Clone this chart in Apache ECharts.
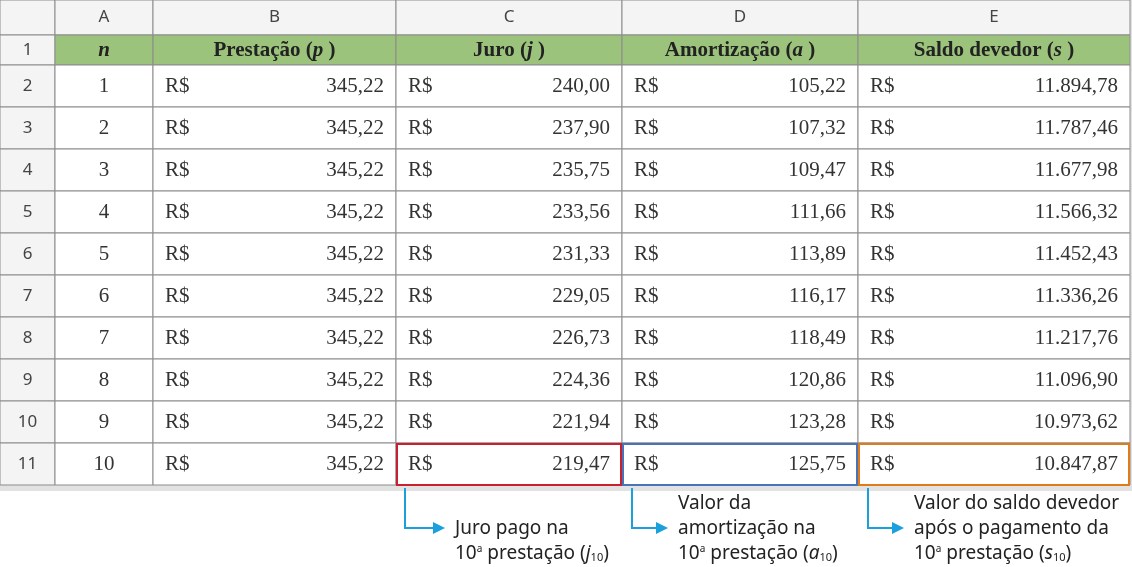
<!DOCTYPE html>
<html><head><meta charset="utf-8">
<script src="https://cdn.jsdelivr.net/npm/echarts@6/dist/echarts.min.js"></script>
<style>html,body{margin:0;padding:0;background:#fff}#c{width:1132px;height:567px}</style>
</head><body><div id="c"></div>
<script>
const colLetters = ['A','B','C','D','E'];
const n = [1,2,3,4,5,6,7,8,9,10];
const prestacao = [345.22,345.22,345.22,345.22,345.22,345.22,345.22,345.22,345.22,345.22];
const juro = [240.00,237.90,235.75,233.56,231.33,229.05,226.73,224.36,221.94,219.47];
const amortizacao = [105.22,107.32,109.47,111.66,113.89,116.17,118.49,120.86,123.28,125.75];
const saldo = [11894.78,11787.46,11677.98,11566.32,11452.43,11336.26,11217.76,11096.90,10973.62,10847.87];

const colEdges = [0,55,153,396,622,858,1130];
function rowTop(r){ return r===0?0:(r===1?35:65+42*(r-2)); }
function rowBot(r){ return r===0?35:(r===1?65:65+42*(r-1)); }
function fmt(v){
  const s=v.toFixed(2).split('.');
  return s[0].replace(/\B(?=(\d{3})+(?!\d))/g,'.')+','+s[1];
}
const cols=[n,prestacao,juro,amortizacao,saldo];
const data=[];
for(let r=0;r<12;r++) for(let c=0;c<6;c++) data.push([c,r]);

const serif='"Liberation Serif","DejaVu Serif",serif';
const sans='"Noto Sans",sans-serif';
function hdr(c){
  const parts=[['n',null],['Prestação (','p'],['Juro (','j'],['Amortização (','a'],['Saldo devedor (','s']][c];
  if(c===0) return {text:'{i|n}',rich:{i:{fontFamily:serif,fontWeight:'bold',fontStyle:'italic',fontSize:21,fill:'#222'}}};
  return {text:'{b|'+parts[0]+'}{i|'+parts[1]+'}{b| )}',rich:{
    b:{fontFamily:serif,fontWeight:'bold',fontSize:21,fill:'#222'},
    i:{fontFamily:serif,fontWeight:'bold',fontStyle:'italic',fontSize:21,fill:'#222'}}};
}
function renderItem(params,api){
  const c=api.value(0), r=api.value(1);
  const p1=api.coord([colEdges[c],rowTop(r)]), p2=api.coord([colEdges[c+1],rowBot(r)]);
  const w=p2[0]-p1[0], h=p2[1]-p1[1], cy=p1[1]+h/2;
  let fill='#fff';
  if(r===0||c===0) fill='#f4f4f4';
  else if(r===1) fill='#9cc37c';
  const ch=[{type:'rect',shape:{x:p1[0],y:p1[1],width:w,height:h},style:{fill:fill,stroke:'#8c8c8c',lineWidth:1}}];
  if(c===0){
    if(r>0) ch.push({type:'text',style:{text:String(r),x:p1[0]+w/2,y:cy,align:'center',verticalAlign:'middle',font:'17px '+sans,fill:'#444'}});
  } else if(r===0){
    ch.push({type:'text',style:{text:colLetters[c-1],x:p1[0]+w/2,y:cy,align:'center',verticalAlign:'middle',font:'17px '+sans,fill:'#444'}});
  } else if(r===1){
    const h2=hdr(c-1);
    ch.push({type:'text',style:Object.assign({x:p1[0]+w/2,y:cy+1,align:'center',verticalAlign:'middle'},h2)});
  } else {
    const v=cols[c-1][r-2];
    const f='21px '+serif;
    if(c===1){
      ch.push({type:'text',style:{text:String(v),x:p1[0]+w/2,y:cy,align:'center',verticalAlign:'middle',font:f,fill:'#333'}});
    } else {
      ch.push({type:'text',style:{text:'R$',x:p1[0]+12,y:cy,align:'left',verticalAlign:'middle',font:f,fill:'#333'}});
      ch.push({type:'text',style:{text:fmt(v),x:p2[0]-12,y:cy,align:'right',verticalAlign:'middle',font:f,fill:'#333'}});
    }
  }
  return {type:'group',children:ch};
}
const hl=[[3,'#c8202f'],[4,'#4a72b8'],[5,'#e07b1a']];
const notes=[
  {x:455,lines:['Juro pago na','10{s|a} prestação ({it|j}{sub|10})'],ax:405},
  {x:678,lines:['Valor da','amortização na','10{s|a} prestação ({it|a}{sub|10})'],ax:632},
  {x:914,lines:['Valor do saldo devedor','após o pagamento da','10{s|a} prestação ({it|s}{sub|10})'],ax:868}
];
function annRender(params,api){
  const i=params.dataIndex, c=hl[i][0], col=hl[i][1];
  const p1=api.coord([colEdges[c],rowTop(11)]), p2=api.coord([colEdges[c+1],rowBot(11)]);
  const nt=notes[i];
  const top=api.coord([nt.ax,488]), bend=api.coord([nt.ax,528]), end=api.coord([nt.x-12,528]);
  const ch=[{type:'rect',shape:{x:p1[0]+1,y:p1[1]+1,width:p2[0]-p1[0]-2,height:p2[1]-p1[1]-1},style:{fill:'none',stroke:col,lineWidth:2}},
    {type:'polyline',shape:{points:[top,bend,[end[0]-6,end[1]]]},style:{stroke:'#1aa0dc',lineWidth:2,fill:'none'}},
    {type:'polygon',shape:{points:[[end[0]-10,end[1]-6],[end[0]+2,end[1]],[end[0]-10,end[1]+6]]},style:{fill:'#1aa0dc'}}];
  const L=nt.lines.length, lh=25;
  nt.lines.forEach((t,k)=>{
    const yy=api.coord([0,554-(L-1-k)*lh])[1];
    ch.push({type:'text',style:{text:t,x:nt.x,y:yy,align:'left',verticalAlign:'middle',
      font:'19px "Noto Sans",sans-serif',fill:'#222',
      rich:{s:{fontSize:10,verticalAlign:'top',padding:[0,0,8,0],fontFamily:'Noto Sans',fill:'#222'},
            it:{fontStyle:'italic',fontSize:19,fontFamily:'Noto Sans',fill:'#222'},
            sub:{fontSize:11,padding:[8,0,0,0],fontFamily:'Noto Sans',fill:'#222'}}}});
  });
  return {type:'group',children:ch};
}
const chart=echarts.init(document.getElementById('c'));
chart.setOption({
  animation:false,
  grid:{left:0,right:0,top:0,bottom:0},
  xAxis:{type:'value',min:0,max:1132,show:false},
  yAxis:{type:'value',min:0,max:567,inverse:true,show:false},
  graphic:[{type:'rect',shape:{x:0,y:0,width:1132,height:491},style:{fill:'#e2e2e2'},z:-10}],
  series:[
    {type:'custom',renderItem:renderItem,data:data,silent:true,z:2},
    {type:'custom',renderItem:annRender,data:[[0,0],[1,0],[2,0]],silent:true,z:3}
  ]
});
</script></body></html>
